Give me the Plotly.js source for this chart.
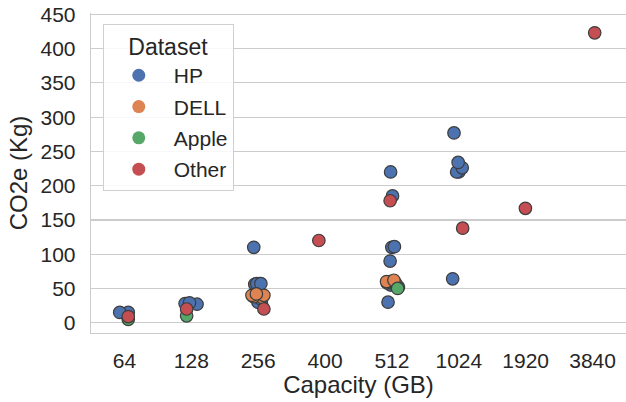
<!DOCTYPE html>
<html>
<head>
<meta charset="utf-8">
<script src="https://cdn.plot.ly/plotly-3.0.1.min.js"></script>
<style>html,body{margin:0;padding:0;background:#fff;}#chart{width:626px;height:402px;}</style>
</head>
<body>
<div id="chart"></div>
<script>
// Categories (capacity, GB)
const categories = ["64", "128", "256", "400", "512", "1024", "1920", "3840"];
const yTicks = [0, 50, 100, 150, 200, 250, 300, 350, 400, 450];

// HP
const hpCapacity = ["64","64","128","128","128","256","256","256","256","256","256","256","256","256","512","512","512","512","512","512","512","512","512","1024","1024","1024","1024","1024","1024"];
const hpCO2 =      [15, 15, 27, 28, 29, 110, 57, 57, 57, 56, 56, 35, 30, 28, 220, 185, 111, 110, 90, 58, 55, 52, 30, 277, 234, 226, 220, 220, 64];

// DELL
const dellCapacity = ["256","256","256","256","256","512","512","512","512","512","512"];
const dellCO2 =      [42, 40, 40, 38, 37, 62, 60, 60, 58, 58, 57];

// Apple
const appleCapacity = ["64","128","512"];
const appleCO2 =      [5, 10, 50];

// Other
const otherCapacity = ["64","128","256","400","512","1024","1920","3840"];
const otherCO2 =      [9, 20, 20, 120, 178, 138, 167, 423];

const names = ["HP", "DELL", "Apple", "Other"];
const colors = ["#4C72B0", "#DD8452", "#55A868", "#C44E52"];
const xs = [hpCapacity, dellCapacity, appleCapacity, otherCapacity];
const ys = [hpCO2, dellCO2, appleCO2, otherCO2];

const FONT = "Arial, 'Liberation Sans', sans-serif";
const TXT = "#262626";

const traces = [];
for (let i = 0; i < names.length; i++) {
  traces.push({
    type: "box",
    name: names[i],
    x: xs[i],
    y: ys[i],
    boxpoints: "all",
    jitter: 0.55,
    pointpos: 0,
    width: 0.4,
    fillcolor: "rgba(0,0,0,0)",
    line: {color: "rgba(0,0,0,0)", width: 0},
    marker: {color: colors[i], size: 12.5, opacity: 1, line: {color: "#3d3d3d", width: 1.2}},
    showlegend: false,
    hoverinfo: "y"
  });
}
for (let i = 0; i < names.length; i++) {
  traces.push({
    type: "scatter",
    mode: "markers",
    name: names[i],
    x: [null],
    y: [null],
    legendgroup: names[i],
    marker: {color: colors[i], size: 13},
    showlegend: true
  });
}

const layout = {
  width: 626,
  height: 402,
  margin: {l: 91, r: 0, t: 13, b: 69},
  paper_bgcolor: "#ffffff",
  plot_bgcolor: "#ffffff",
  boxmode: "overlay",
  font: {family: FONT, color: TXT, size: 21},
  xaxis: {
    type: "category",
    categoryorder: "array",
    categoryarray: categories,
    range: [-0.5, 7.5],
    showgrid: false,
    zeroline: false,
    showline: true,
    linecolor: "#cccccc",
    linewidth: 1.3,
    ticks: "",
    ticklabelstandoff: 8,
    tickfont: {family: FONT, size: 21, color: TXT},
    title: {text: "Capacity (GB)", font: {family: FONT, size: 24, color: TXT}, standoff: 4}
  },
  yaxis: {
    range: [-15, 452],
    tickvals: yTicks,
    showgrid: true,
    gridcolor: "#cccccc",
    gridwidth: 1.2,
    zeroline: false,
    showline: true,
    linecolor: "#cccccc",
    linewidth: 1.3,
    ticks: "",
    ticklabelstandoff: 10,
    tickfont: {family: FONT, size: 21, color: TXT},
    title: {text: "CO2e (Kg)", font: {family: FONT, size: 24, color: TXT}, standoff: 6}
  },
  legend: {
    x: 0.022,
    y: 0.965,
    xanchor: "left",
    yanchor: "top",
    bgcolor: "rgba(255,255,255,0.85)",
    bordercolor: "#d0d0d0",
    borderwidth: 1,
    itemwidth: 60,
    font: {family: FONT, size: 21, color: TXT},
    title: {text: "Dataset", side: "top center", font: {family: FONT, size: 23, color: TXT}},
    tracegroupgap: 1
  },
  showlegend: true
};

Plotly.newPlot("chart", traces, layout, {displayModeBar: false, staticPlot: true});
</script>
</body>
</html>
